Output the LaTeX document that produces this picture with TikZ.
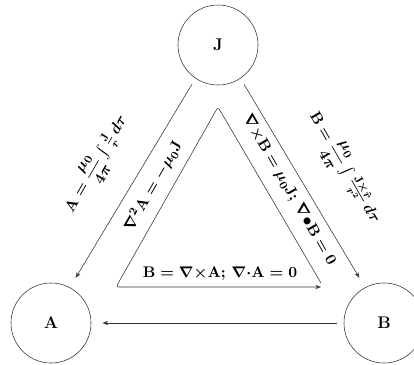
\documentclass[tikz,border=0pt]{standalone}
\usepackage{amsmath,amssymb}
\usepackage{tikz}
\usetikzlibrary{arrows.meta, positioning}

\begin{document}
\begin{tikzpicture}[
    x=0.025cm, y=-0.025cm,
    field/.style={circle, draw=black!80, thin, minimum size=2cm, inner sep=0pt,
                  font=\large\bfseries},
    arr/.style={-{Stealth[length=4pt, width=3pt]}, thin, color=black!80},
    eq/.style={font=\fontsize{11}{13}\selectfont\bfseries\boldmath, inner sep=1pt}
  ]
    \useasboundingbox (0,0) rectangle (414,364);

    \node[field] (J) at (218,45)  {J};
    \node[field] (A) at (51,323)  {A};
    \node[field] (B) at (384,323) {B};

    \coordinate (apex) at (218,107);
    \coordinate (lft)  at (116,287);
    \coordinate (rgt)  at (321,287);

    \draw[arr, shorten <=5pt, shorten >=8pt] (J.236) -- (A.62);
    \draw[arr, shorten <=5pt, shorten >=8pt] (J.304) -- (B.118);
    \draw[arr, shorten <=5pt, shorten >=8pt] (B) -- (A);
    \draw[arr, rounded corners=2pt] (321,283) -- (apex) -- (lft) -- (rgt);

    \node[eq, rotate=60]  (intA)  at (97,164)
      {$\mathbf{A}=\dfrac{\mu_0}{4\pi}\int\frac{\mathbf{J}}{r}\,d\tau$};
    \node[eq, rotate=60]  (lapA)  at (153,186)
      {$\nabla^2\mathbf{A}=-\mu_0\mathbf{J}$};
    \node[eq, rotate=-60] (curlB) at (289,190)
      {$\nabla{\times}\mathbf{B}=\mu_0\mathbf{J};\,\nabla{\bullet}\mathbf{B}=0$};
    \node[eq, rotate=-60] (intB)  at (344,168)
      {$\mathbf{B}=\dfrac{\mu_0}{4\pi}\int\frac{\mathbf{J}\times\hat{\boldsymbol{r}}}{r^2}\,d\tau$};
    \node[eq] (curlA) at (220,274)
      {$\mathbf{B}=\nabla{\times}\mathbf{A};\,\nabla{\cdot}\mathbf{A}=0$};
  \end{tikzpicture}
\end{document}
